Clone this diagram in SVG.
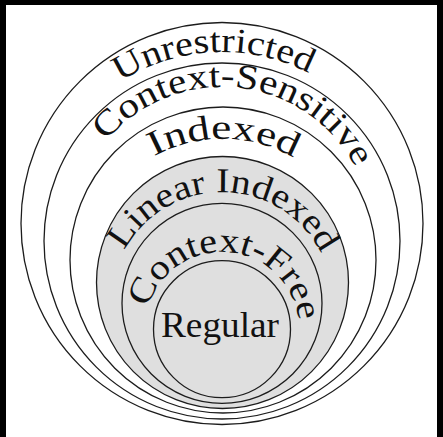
<svg xmlns="http://www.w3.org/2000/svg" width="443" height="437" viewBox="0 0 443 437">
<style>
.ring{fill:none;stroke:#1c1c1c;stroke-width:1.3}
.lbl{font-family:"Liberation Serif","Times New Roman",serif;font-size:35px;fill:#111}
</style>
<defs>
<path id="pU" d="M222,430 A189,189 0 1 1 222,52 A189,189 0 1 1 222,430"/>
<path id="pCS" d="M222,389 A151,151 0 1 1 222,87 A151,151 0 1 1 222,389"/>
<path id="pI" d="M222.5,426 A143.5,143.5 0 1 1 222.5,139 A143.5,143.5 0 1 1 222.5,426"/>
<path id="pLI" d="M222,414.3 A111,111 0 1 1 222,192.3 A111,111 0 1 1 222,414.3"/>
<path id="pCF" d="M222,406 A77,77 0 1 1 222,252 A77,77 0 1 1 222,406"/>
</defs>
<rect width="443" height="437" fill="#fff"/>
<g id="frame">
<rect x="0" y="0" width="443" height="5" fill="#000"/>
<rect x="0" y="0" width="6" height="437" fill="#000"/>
<rect x="437" y="0" width="6" height="437" fill="#000"/>
</g>
<g id="unrestricted">
<circle class="ring" cx="222" cy="223.5" r="201"/>
<text class="lbl"><textPath href="#pU" startOffset="585" text-anchor="middle" textLength="198" lengthAdjust="spacingAndGlyphs">Unrestricted</textPath></text>
</g>
<g id="context-sensitive">
<circle class="ring" cx="222" cy="241" r="178"/>
<text class="lbl"><textPath href="#pCS" startOffset="490" text-anchor="middle" textLength="296" lengthAdjust="spacingAndGlyphs">Context-Sensitive</textPath></text>
</g>
<g id="indexed">
<circle class="ring" cx="223" cy="260" r="153"/>
<text class="lbl"><textPath href="#pI" startOffset="452" text-anchor="middle" textLength="146" lengthAdjust="spacingAndGlyphs">Indexed</textPath></text>
</g>
<g id="linear-indexed">
<circle class="ring" cx="222.5" cy="282.5" r="126" style="fill:#dfdfdf"/>
<text class="lbl"><textPath href="#pLI" startOffset="350" text-anchor="middle" textLength="242" lengthAdjust="spacingAndGlyphs">Linear Indexed</textPath></text>
</g>
<g id="context-free">
<circle class="ring" cx="222" cy="303.3" r="100"/>
<text class="lbl"><textPath href="#pCF" startOffset="248" text-anchor="middle" textLength="212" lengthAdjust="spacingAndGlyphs">Context-Free</textPath></text>
</g>
<g id="regular">
<circle class="ring" cx="222" cy="329.2" r="68.5"/>
<text class="lbl" x="220" y="337" text-anchor="middle" textLength="118" lengthAdjust="spacingAndGlyphs">Regular</text>
</g>
</svg>
